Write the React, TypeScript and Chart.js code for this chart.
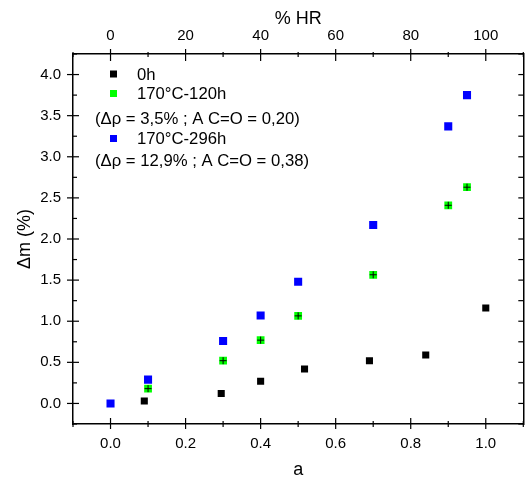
import React, { useEffect, useRef } from 'react';
import { Chart, registerables } from 'chart.js';

Chart.register(...registerables);

// ---- data ----
const seriesLabels = ['0h', '170°C-120h', '170°C-296h'];
const seriesNotes = ['', '(Δρ = 3,5% ; A C=O = 0,20)', '(Δρ = 12,9% ; A C=O = 0,38)'];
const seriesColors = ['#000000', '#00ff00', '#0000ff'];

const a0h = [0.09, 0.295, 0.40, 0.517, 0.69, 0.84, 1.0];
const dm0h = [0.03, 0.12, 0.27, 0.42, 0.52, 0.59, 1.16];

const a120h = [0.10, 0.30, 0.40, 0.50, 0.70, 0.90, 0.95];
const dm120h = [0.18, 0.52, 0.77, 1.065, 1.565, 2.41, 2.63];

const a296h = [0.0, 0.10, 0.30, 0.40, 0.50, 0.70, 0.90, 0.95];
const dm296h = [0.0, 0.29, 0.76, 1.07, 1.48, 2.17, 3.37, 3.75];

const xTicks = [0, 0.2, 0.4, 0.6, 0.8, 1.0];
const hrTicks = [0, 20, 40, 60, 80, 100];
const yTicks = [0, 0.5, 1.0, 1.5, 2.0, 2.5, 3.0, 3.5, 4.0];

const FONT = "'Liberation Sans', Arial, sans-serif";

const toPts = (xs: number[], ys: number[]) => xs.map((x, i) => ({ x, y: ys[i] }));

const frameTicks = {
  id: 'frameTicks',
  afterDraw(chart: any) {
    const ctx = chart.ctx;
    const { left, right, top, bottom } = chart.chartArea;
    ctx.save();
    ctx.strokeStyle = '#000';
    ctx.lineWidth = 1.2;
    const line = (x1: number, y1: number, x2: number, y2: number) => {
      ctx.beginPath();
      ctx.moveTo(x1, y1);
      ctx.lineTo(x2, y2);
      ctx.stroke();
    };
    const minorsOf = (scale: any, vals: number[]) => {
      const step = vals[1] - vals[0];
      const out: number[] = [];
      for (let v = vals[0] - step / 2; v <= scale.max + 1e-9; v += step) {
        if (v >= scale.min - 1e-9) out.push(v);
      }
      return out;
    };
    const horiz = (scale: any, yEdge: number, dir: number, majIn: number, majOut: number, minIn: number, minOut: number) => {
      const vals = scale.ticks.map((t: any) => t.value);
      vals.forEach((v: number) => {
        const p = scale.getPixelForValue(v);
        line(p, yEdge - dir * majIn, p, yEdge + dir * majOut);
      });
      minorsOf(scale, vals).forEach((v) => {
        const p = scale.getPixelForValue(v);
        line(p, yEdge - dir * minIn, p, yEdge + dir * minOut);
      });
    };
    const vert = (scale: any, xEdge: number, dir: number, majIn: number, majOut: number, minIn: number, minOut: number) => {
      const vals = scale.ticks.map((t: any) => t.value);
      vals.forEach((v: number) => {
        const p = scale.getPixelForValue(v);
        line(xEdge + dir * majIn, p, xEdge - dir * majOut, p);
      });
      minorsOf(scale, vals).forEach((v) => {
        const p = scale.getPixelForValue(v);
        line(xEdge + dir * minIn, p, xEdge - dir * minOut, p);
      });
    };
    horiz(chart.scales.x, bottom, 1, 6, 5, 3, 3);
    horiz(chart.scales.x2, top, -1, 7, 5, 3, 2);
    vert(chart.scales.y, left, 1, 6, 6, 4, 0);
    vert(chart.scales.y2, right, -1, 5, 0, 5, 0);
    ctx.restore();
  },
};

const notesLegend = {
  id: 'notesLegend',
  afterDraw(chart: any) {
    const ctx = chart.ctx;
    ctx.save();
    ctx.font = `16.7px ${FONT}`;
    ctx.textBaseline = 'middle';
    const rows = [
      { kind: 'sym', i: 0, y: 74 },
      { kind: 'sym', i: 1, y: 93.5 },
      { kind: 'note', i: 1, y: 118.5 },
      { kind: 'sym', i: 2, y: 138.5 },
      { kind: 'note', i: 2, y: 160 },
    ];
    rows.forEach((r) => {
      if (r.kind === 'sym') {
        ctx.fillStyle = seriesColors[r.i];
        ctx.fillRect(113.5 - 3.5, r.y - 3.5, 7, 7);
        ctx.fillStyle = '#000';
        ctx.fillText(seriesLabels[r.i], 137, r.y + 1);
      } else {
        ctx.fillStyle = '#000';
        ctx.fillText(seriesNotes[r.i], 95, r.y + 1);
      }
    });
    ctx.restore();
  },
};

export default function App() {
  const ref = useRef<HTMLCanvasElement>(null);
  useEffect(() => {
    document.body.style.margin = '0';
    const tickFont = { family: FONT, size: 15 };
    const titleFont = { family: FONT, size: 18, lineHeight: 1 };
    const noGrid = { display: false, drawTicks: false, tickLength: 0 };
    const chart = new Chart(ref.current!, {
      type: 'scatter',
      data: {
        datasets: [
          {
            label: seriesLabels[0],
            data: toPts(a0h, dm0h),
            backgroundColor: seriesColors[0],
            borderWidth: 0,
            pointStyle: 'rect',
            pointRadius: 5,
          },
          {
            label: 'err',
            data: toPts(a120h, dm120h),
            borderColor: '#000',
            borderWidth: 1,
            pointStyle: 'cross',
            pointRadius: 3.5,
          },
          {
            label: seriesLabels[1],
            data: toPts(a120h, dm120h),
            backgroundColor: seriesColors[1],
            borderWidth: 0,
            pointStyle: 'rect',
            pointRadius: 5.5,
          },
          {
            label: seriesLabels[2],
            data: toPts(a296h, dm296h),
            backgroundColor: seriesColors[2],
            borderWidth: 0,
            pointStyle: 'rect',
            pointRadius: 5.7,
          },
        ],
      },
      options: {
        responsive: false,
        animation: false,
        layout: { padding: 0 },
        plugins: { legend: { display: false }, tooltip: { enabled: false } },
        scales: {
          x: {
            type: 'linear',
            position: 'bottom',
            min: -0.1,
            max: 1.1,
            afterBuildTicks: (s: any) => { s.ticks = xTicks.map((v) => ({ value: v })); },
            afterFit: (s: any) => { s.height = 55; },
            ticks: { color: '#000', font: tickFont, padding: 11, callback: (v: any) => Number(v).toFixed(1), maxRotation: 0 },
            grid: noGrid,
            border: { display: true, color: '#000', width: 1.5 },
            title: { display: true, text: 'a', color: '#000', font: titleFont, padding: { top: 0, bottom: 0 } },
          },
          x2: {
            type: 'linear',
            position: 'top',
            min: -10,
            max: 110,
            afterBuildTicks: (s: any) => { s.ticks = hrTicks.map((v) => ({ value: v })); },
            afterFit: (s: any) => { s.height = 54; },
            ticks: { color: '#000', font: tickFont, padding: 9, callback: (v: any) => String(v), maxRotation: 0 },
            grid: noGrid,
            border: { display: true, color: '#000', width: 1.5 },
            title: { display: true, text: '% HR', color: '#000', font: titleFont, padding: { top: 10.5, bottom: 0 } },
          },
          y: {
            type: 'linear',
            position: 'left',
            min: -0.25,
            max: 4.25,
            afterBuildTicks: (s: any) => { s.ticks = yTicks.map((v) => ({ value: v })); },
            afterFit: (s: any) => { s.width = 73; },
            ticks: { color: '#000', font: tickFont, padding: 12, callback: (v: any) => Number(v).toFixed(1) },
            grid: noGrid,
            border: { display: true, color: '#000', width: 1.5 },
            title: { display: true, text: 'Δm (%)', color: '#000', font: titleFont, padding: { top: 16.5, bottom: 0 } },
          },
          y2: {
            type: 'linear',
            position: 'right',
            min: -0.25,
            max: 4.25,
            afterBuildTicks: (s: any) => { s.ticks = yTicks.map((v) => ({ value: v })); },
            afterFit: (s: any) => { s.width = 3; },
            ticks: { display: false },
            grid: noGrid,
            border: { display: true, color: '#000', width: 1.5 },
          },
        },
      },
      plugins: [frameTicks, notesLegend],
    } as any);
    return () => chart.destroy();
  }, []);
  return (
    <div style={{ width: 529, height: 479 }}>
      <canvas ref={ref} width={529} height={479} style={{ display: 'block' }} />
    </div>
  );
}
